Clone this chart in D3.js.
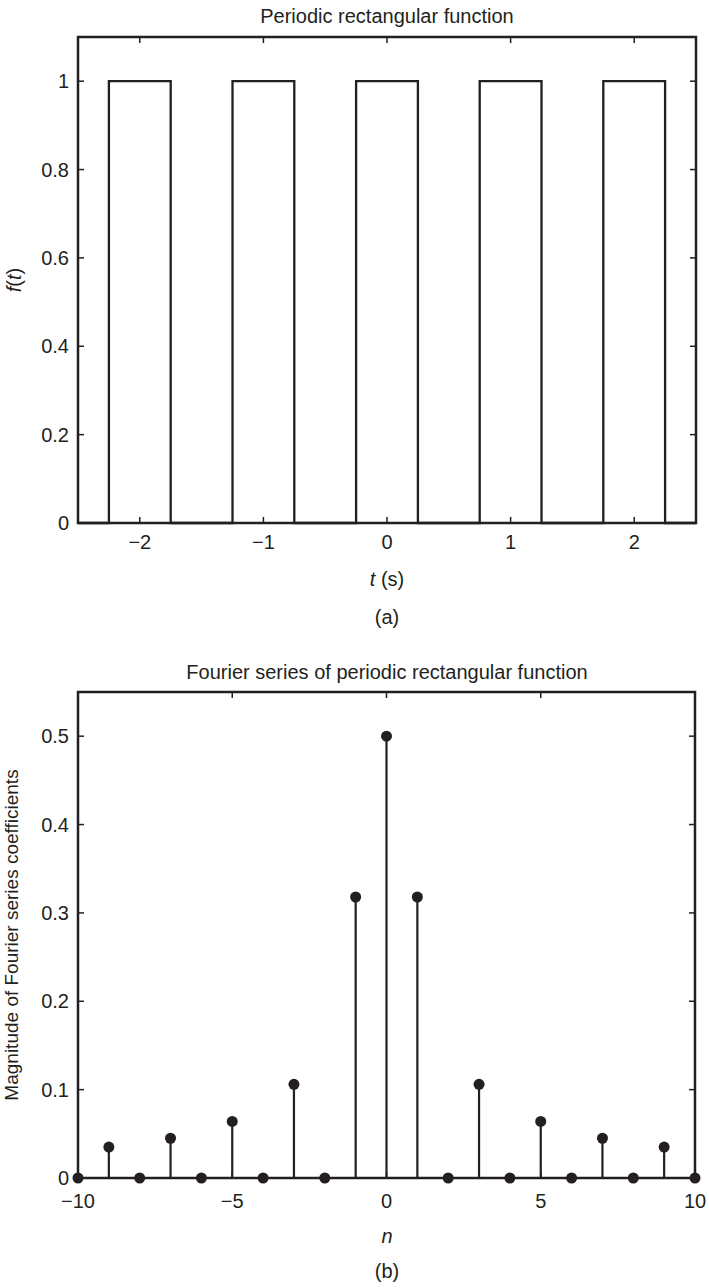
<!DOCTYPE html>
<html>
<head>
<meta charset="utf-8">
<script src="https://cdn.jsdelivr.net/npm/d3@7"></script>
<style>
  body { margin: 0; background: #fff; }
  text { font-family: "Liberation Sans", Arial, sans-serif; fill: #231f20; }
</style>
</head>
<body>
<div id="chart"></div>
<script>
// top panel: periodic rectangular pulse
var pulseCenters = [-2, -1, 0, 1, 2];
var pulseWidth = 0.5;
var topXTicks = [-2, -1, 0, 1, 2];
var topYTicks = [0, 0.2, 0.4, 0.6, 0.8, 1];

// bottom panel: Fourier series coefficient magnitudes
var harmonics = [-10, -9, -8, -7, -6, -5, -4, -3, -2, -1, 0, 1, 2, 3, 4, 5, 6, 7, 8, 9, 10];
var magnitudes = [0, 0.035, 0, 0.045, 0, 0.064, 0, 0.106, 0, 0.318, 0.5, 0.318, 0, 0.106, 0, 0.064, 0, 0.045, 0, 0.035, 0];
var botXTicks = [-10, -5, 0, 5, 10];
var botYTicks = [0, 0.1, 0.2, 0.3, 0.4, 0.5];

var W = 709, H = 1288;
var ink = "#231f20";
var fs = "20px";

var svg = d3.select("#chart").append("svg")
    .attr("width", W)
    .attr("height", H);

function fmt(v) {
    return v < 0 ? "\u2212" + Math.abs(v) : String(v);
}

// box, inward ticks on all four sides, tick labels
function frame(g, x, y, xt, yt, labelGap) {
    var x0 = x.range()[0], x1 = x.range()[1];
    var y0 = y.range()[0], y1 = y.range()[1];
    var tl = 6;
    xt.forEach(function (v) {
        g.append("line").attr("x1", x(v)).attr("x2", x(v)).attr("y1", y0).attr("y2", y0 - tl)
            .attr("stroke", ink).attr("stroke-width", 1.5);
        g.append("line").attr("x1", x(v)).attr("x2", x(v)).attr("y1", y1).attr("y2", y1 + tl)
            .attr("stroke", ink).attr("stroke-width", 1.5);
        g.append("text").attr("x", x(v)).attr("y", y0 + labelGap)
            .attr("text-anchor", "middle").style("font-size", fs).text(fmt(v));
    });
    yt.forEach(function (v) {
        g.append("line").attr("x1", x0).attr("x2", x0 + tl).attr("y1", y(v)).attr("y2", y(v))
            .attr("stroke", ink).attr("stroke-width", 1.5);
        g.append("line").attr("x1", x1).attr("x2", x1 - tl).attr("y1", y(v)).attr("y2", y(v))
            .attr("stroke", ink).attr("stroke-width", 1.5);
        g.append("text").attr("x", x0 - 9).attr("y", y(v) + 7)
            .attr("text-anchor", "end").style("font-size", fs).text(fmt(v));
    });
    g.append("rect")
        .attr("x", x0).attr("y", y1)
        .attr("width", x1 - x0).attr("height", y0 - y1)
        .attr("fill", "none").attr("stroke", ink).attr("stroke-width", 2.5);
}

// ---------- panel (a) ----------
var xA = d3.scaleLinear().domain([-2.5, 2.5]).range([78, 696]);
var yA = d3.scaleLinear().domain([0, 1.1]).range([523, 37]);
var gA = svg.append("g");

var pts = [[-2.5, 0]];
pulseCenters.forEach(function (c) {
    pts.push([c - pulseWidth / 2, 0], [c - pulseWidth / 2, 1], [c + pulseWidth / 2, 1], [c + pulseWidth / 2, 0]);
});
pts.push([2.5, 0]);

gA.append("path")
    .datum(pts)
    .attr("d", d3.line().x(function (d) { return xA(d[0]); }).y(function (d) { return yA(d[1]); }))
    .attr("fill", "none").attr("stroke", ink).attr("stroke-width", 2.3);

frame(gA, xA, yA, topXTicks, topYTicks, 26);

gA.append("text").attr("x", 387).attr("y", 23).attr("text-anchor", "middle")
    .style("font-size", fs).text("Periodic rectangular function");
gA.append("text").attr("x", 387).attr("y", 586).attr("text-anchor", "middle")
    .style("font-size", fs)
    .html('<tspan font-style="italic">t</tspan> (s)');
gA.append("text").attr("x", 387).attr("y", 624).attr("text-anchor", "middle")
    .style("font-size", fs).text("(a)");
gA.append("text").attr("transform", "translate(21,280) rotate(-90)").attr("text-anchor", "middle")
    .style("font-size", fs)
    .html('<tspan font-style="italic">f</tspan>(<tspan font-style="italic">t</tspan>)');

// ---------- panel (b) ----------
var xB = d3.scaleLinear().domain([-10, 10]).range([78, 695]);
var yB = d3.scaleLinear().domain([0, 0.55]).range([1178, 692]);
var gB = svg.append("g");

gB.selectAll(".stem")
    .data(harmonics)
    .enter()
    .append("line")
    .attr("class", "stem")
    .attr("x1", function (d) { return xB(d); })
    .attr("x2", function (d) { return xB(d); })
    .attr("y1", yB(0))
    .attr("y2", function (d, i) { return yB(magnitudes[i]); })
    .attr("stroke", ink).attr("stroke-width", 2.2);

frame(gB, xB, yB, botXTicks, botYTicks, 30);

gB.selectAll(".dot")
    .data(harmonics)
    .enter()
    .append("circle")
    .attr("class", "dot")
    .attr("cx", function (d) { return xB(d); })
    .attr("cy", function (d, i) { return yB(magnitudes[i]); })
    .attr("r", 5.5)
    .attr("fill", ink);

gB.append("text").attr("x", 387).attr("y", 679).attr("text-anchor", "middle")
    .style("font-size", fs).text("Fourier series of periodic rectangular function");
gB.append("text").attr("x", 387).attr("y", 1243).attr("text-anchor", "middle")
    .style("font-size", fs).style("font-style", "italic").text("n");
gB.append("text").attr("x", 387).attr("y", 1278).attr("text-anchor", "middle")
    .style("font-size", fs).text("(b)");
gB.append("text").attr("transform", "translate(18,935) rotate(-90)").attr("text-anchor", "middle")
    .style("font-size", "19px").text("Magnitude of Fourier series coefficients");
</script>
</body>
</html>
